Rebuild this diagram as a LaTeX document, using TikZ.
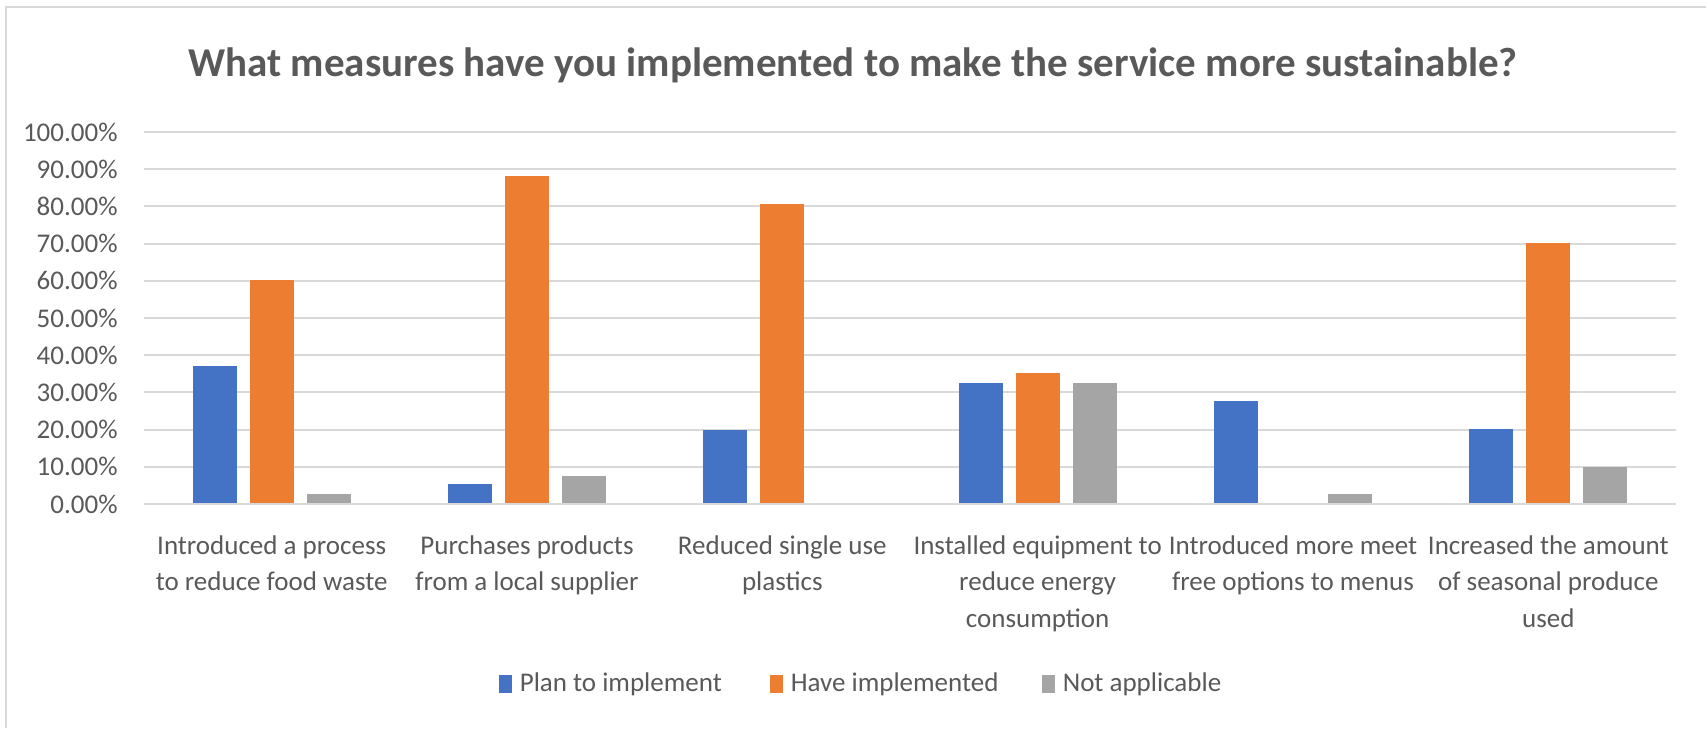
\documentclass[tikz,border=0pt]{standalone}
\usepackage{fontspec}
\setmainfont{Carlito}
\definecolor{txtgray}{HTML}{595959}
\definecolor{gridgray}{HTML}{D9D9D9}
\definecolor{planblue}{HTML}{4472C4}
\definecolor{haveorange}{HTML}{ED7D31}
\definecolor{nagray}{HTML}{A5A5A5}
\begin{document}
\begin{tikzpicture}[x=0.5pt,y=-0.5pt,font=\fontsize{13.5}{18.25}\selectfont,text=txtgray,
  grid line/.style={gridgray,line width=1pt},
  cat label/.style={anchor=north,align=center,inner sep=0pt},
  legend box/.style={fill=#1,minimum width=6.5pt,minimum height=9pt,inner sep=0pt}]
\useasboundingbox (0,0) rectangle (1706,728);

\begin{scope}
\draw[grid line] (5.5,728) -- (5.5,6.5) -- (1706,6.5);
\node[anchor=base,font=\fontsize{20.5}{25}\selectfont\bfseries] (title) at (853,76)
  {What measures have you implemented to make the service more sustainable?};
\end{scope}

% value axis and grid
\foreach \v in {0,...,10} {
  \draw[grid line] (144,504-37.2*\v) -- (1676,504-37.2*\v);
  \node[anchor=east,inner sep=0pt] (y\v) at (118,504-37.2*\v) {\ifnum\v=0 0\else\v0\fi.00\%};
}

% bars: plan / have / not applicable (offset, colour)
\foreach \i/\p/\h/\n in {0/36.9/60/2.4, 1/5.1/87.8/7.3, 2/19.5/80.5/0, 3/32.3/35/32.3, 4/27.5/0/2.4, 5/20/70/9.8} {
  \pgfmathsetmacro\c{144+255.33*(\i+0.5)}
  \foreach \val/\off/\col in {\p/-57/planblue, \h/0/haveorange, \n/57/nagray} {
    \ifdim\val pt>0pt
      \fill[\col] (\c+\off-22,503) rectangle (\c+\off+22,503-3.72*\val);
    \fi
  }
}

\foreach \i/\t in {0/{Introduced a process\\to reduce food waste},
                   1/{Purchases products\\from a local supplier},
                   2/{Reduced single use\\plastics},
                   3/{Installed equipment to\\reduce energy\\consumption},
                   4/{Introduced more meet\\free options to menus},
                   5/{Increased the amount\\of seasonal produce\\used}} {
  \node[cat label] (cat\i) at ({144+255.33*(\i+0.5)},535) {\t};
}

% legend
\foreach \k/\col/\x/\t in {1/planblue/505.5/Plan to implement, 2/haveorange/776.5/Have implemented, 3/nagray/1048.5/Not applicable} {
  \node[legend box=\col] (box\k) at (\x,684) {};
  \node[anchor=west,inner sep=0pt] (leg\k) at ([xshift=3.5pt]box\k.east) {\t};
}
\end{tikzpicture}
\end{document}
